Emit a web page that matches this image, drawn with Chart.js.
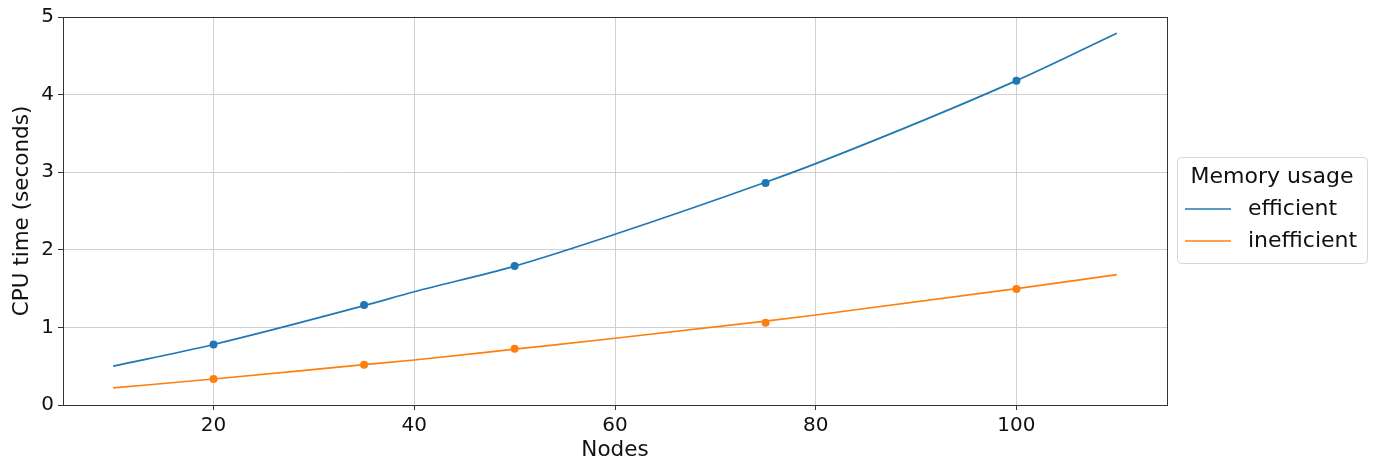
<!DOCTYPE html>
<html lang="en">
<head>
    <meta charset="UTF-8">
    <title>CPU time vs nodes</title>
    <script src="https://cdn.jsdelivr.net/npm/chart.js"></script>
    <style>
        body { margin: 0; background: #fff; }
        canvas { display: block; }
    </style>
</head>
<body>
    <canvas id="myChart" width="1376" height="465"></canvas>

    <script>
        // measured points
        const nodes = [20, 35, 50, 75, 100];
        const efficientTimes = [0.78, 1.29, 1.79, 2.86, 4.18];
        const inefficientTimes = [0.335, 0.52, 0.725, 1.06, 1.495];

        // fitted curves
        const fitNodes = [10, 20, 35, 40, 50, 60, 75, 80, 100, 110];
        const efficientFit = [0.50, 0.78, 1.28, 1.46, 1.79, 2.20, 2.87, 3.11, 4.18, 4.79];
        const inefficientFit = [0.22, 0.335, 0.52, 0.58, 0.72, 0.86, 1.08, 1.16, 1.50, 1.68];

        const seriesNames = ['efficient', 'inefficient'];
        const legendTitle = 'Memory usage';
        const xTicks = [20, 40, 60, 80, 100];
        const yTicks = [0, 1, 2, 3, 4, 5];

        const blue = '#1f77b4';
        const orange = '#ff7f0e';
        const font = 'DejaVu Sans';

        function toPoints(xs, ys) {
            return xs.map((x, i) => ({ x: x, y: ys[i] }));
        }

        // full box round the plot + matplotlib style legend
        const framePlugin = {
            id: 'frame',
            afterDraw(chart) {
                const ctx = chart.ctx;
                const a = chart.chartArea;
                ctx.save();
                ctx.strokeStyle = '#333';
                ctx.lineWidth = 1;
                ctx.strokeRect(a.left + 0.5, a.top + 0.5, a.right - a.left, a.bottom - a.top);

                // legend box
                const bx = 1177, by = 157, bw = 190, bh = 106;
                ctx.beginPath();
                ctx.roundRect(bx + 0.5, by + 0.5, bw, bh, 4);
                ctx.fillStyle = 'rgba(255,255,255,0.8)';
                ctx.fill();
                ctx.strokeStyle = '#d6d6d6';
                ctx.stroke();

                ctx.fillStyle = '#111';
                ctx.textBaseline = 'middle';
                ctx.font = '22px "' + font + '"';
                ctx.textAlign = 'center';
                ctx.fillText(legendTitle, bx + bw / 2, 177);

                const colors = [blue, orange];
                const rows = [209, 241];
                ctx.textAlign = 'left';
                seriesNames.forEach((name, i) => {
                    ctx.strokeStyle = colors[i];
                    ctx.lineWidth = 1.7;
                    ctx.beginPath();
                    ctx.moveTo(1185, rows[i]);
                    ctx.lineTo(1231, rows[i]);
                    ctx.stroke();
                    ctx.fillText(name, 1248, rows[i]);
                });
                ctx.restore();
            }
        };

        function createChart() {
            const ctx = document.getElementById('myChart').getContext('2d');
            new Chart(ctx, {
                type: 'scatter',
                data: {
                    datasets: [
                        {
                            label: seriesNames[0],
                            data: toPoints(fitNodes, efficientFit),
                            showLine: true,
                            borderColor: blue,
                            borderWidth: 1.7,
                            pointRadius: 0,
                            cubicInterpolationMode: 'monotone'
                        },
                        {
                            label: seriesNames[1],
                            data: toPoints(fitNodes, inefficientFit),
                            showLine: true,
                            borderColor: orange,
                            borderWidth: 1.7,
                            pointRadius: 0,
                            cubicInterpolationMode: 'monotone'
                        },
                        {
                            label: seriesNames[0] + ' points',
                            data: toPoints(nodes, efficientTimes),
                            backgroundColor: blue,
                            borderColor: blue,
                            pointRadius: 4,
                            borderWidth: 0
                        },
                        {
                            label: seriesNames[1] + ' points',
                            data: toPoints(nodes, inefficientTimes),
                            backgroundColor: orange,
                            borderColor: orange,
                            pointRadius: 4,
                            borderWidth: 0
                        }
                    ]
                },
                options: {
                    responsive: false,
                    animation: false,
                    devicePixelRatio: 1,
                    layout: { padding: { left: 0, top: 17, right: 209, bottom: 0 } },
                    plugins: {
                        legend: { display: false },
                        tooltip: { enabled: false }
                    },
                    scales: {
                        x: {
                            type: 'linear',
                            min: 5,
                            max: 115,
                            afterBuildTicks: s => { s.ticks = xTicks.map(v => ({ value: v })); },
                            afterFit: s => { s.height = 60; },
                            grid: { color: '#d0d0d0', tickColor: '#333', tickLength: 5 },
                            border: { color: '#333' },
                            ticks: { color: '#111', padding: 4, font: { family: font, size: 20 } },
                            title: {
                                display: true,
                                text: 'Nodes',
                                color: '#111',
                                padding: { top: 0, bottom: 2 },
                                font: { family: font, size: 21.5 }
                            }
                        },
                        y: {
                            min: 0,
                            max: 5,
                            afterBuildTicks: s => { s.ticks = yTicks.map(v => ({ value: v })); },
                            afterFit: s => { s.width = 63; },
                            grid: { color: '#d0d0d0', tickColor: '#333', tickLength: 5 },
                            border: { color: '#333' },
                            ticks: { color: '#111', padding: 4, font: { family: font, size: 20 } },
                            title: {
                                display: true,
                                text: 'CPU time (seconds)',
                                color: '#111',
                                padding: { top: 10, bottom: 0 },
                                font: { family: font, size: 21.5 }
                            }
                        }
                    }
                },
                plugins: [framePlugin]
            });
        }
        document.addEventListener('DOMContentLoaded', createChart);
    </script>
</body>
</html>
